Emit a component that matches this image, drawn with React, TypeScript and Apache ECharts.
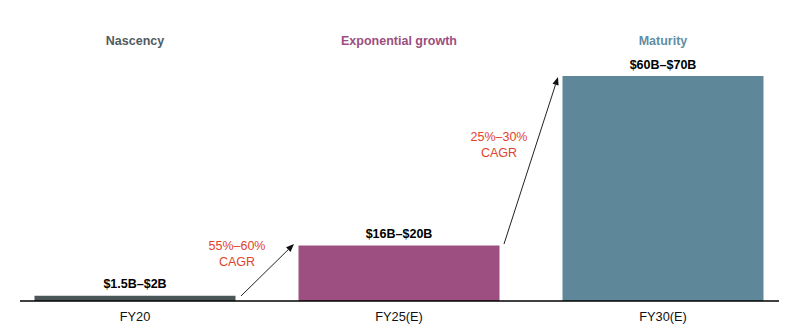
import React, { useEffect, useRef } from "react";
import * as echarts from "echarts";

const categories = ["FY20", "FY25(E)", "FY30(E)"];
const values = [1.5, 16, 65];
const valueLabels = ["$1.5B–$2B", "$16B–$20B", "$60B–$70B"];
const stageNames = ["Nascency", "Exponential growth", "Maturity"];
const barColors = ["#4b5659", "#9c4f80", "#5e8799"];
const stageColors = ["#505b61", "#9c4f80", "#5f8ea5"];
const cagrLabels = ["55%–60%\nCAGR", "25%–30%\nCAGR"];

const FONT = "'Liberation Sans', Arial, sans-serif";

function arrow(x1: number, y1: number, x2: number, y2: number) {
  const ang = Math.atan2(y2 - y1, x2 - x1);
  const len = 8;
  const w = 3.2;
  const bx = x2 - len * Math.cos(ang);
  const by = y2 - len * Math.sin(ang);
  const px = -Math.sin(ang) * w;
  const py = Math.cos(ang) * w;
  return [
    {
      type: "line",
      shape: { x1, y1, x2: bx, y2: by },
      style: { stroke: "#222", lineWidth: 1 },
    },
    {
      type: "polygon",
      shape: { points: [[x2, y2], [bx + px, by + py], [bx - px, by - py]] },
      style: { fill: "#111" },
    },
  ];
}

export default function App() {
  const ref = useRef<HTMLDivElement>(null);
  useEffect(() => {
    if (!ref.current) return;
    const chart = echarts.init(ref.current, null, { renderer: "svg" });
    const centers = [135, 399, 663];
    chart.setOption({
      animation: false,
      textStyle: { fontFamily: FONT },
      grid: { left: 3, right: 2, top: 76, bottom: 35 },
      xAxis: {
        type: "category",
        data: categories,
        axisLine: { show: false },
        axisTick: { show: false },
        axisLabel: { color: "#111", fontSize: 12.8, margin: 9, fontFamily: FONT },
      },
      yAxis: {
        type: "value",
        min: 0,
        max: 65,
        show: false,
        splitLine: { show: false },
      },
      series: [
        {
          type: "bar",
          barWidth: 201,
          data: values.map((v, i) => ({
            value: v,
            itemStyle: { color: barColors[i] },
            label: {
              show: true,
              position: "top",
              distance: 5,
              formatter: valueLabels[i],
              color: "#000",
              fontWeight: "bold",
              fontSize: 12.5,
              fontFamily: FONT,
            },
          })),
        },
      ],
      graphic: [
        {
          type: "line",
          shape: { x1: 20, y1: 301, x2: 779, y2: 301 },
          style: { stroke: "#000", lineWidth: 1.5 },
          z: 10,
        },
        ...stageNames.map((n, i) => ({
          type: "text",
          x: centers[i],
          y: 41,
          style: {
            text: n,
            fill: stageColors[i],
            font: `bold 12.5px ${FONT}`,
            textAlign: "center",
            textVerticalAlign: "middle",
          },
        })),
        {
          type: "text",
          x: 237,
          y: 254,
          style: {
            text: cagrLabels[0],
            fill: "#e2432c",
            font: `12.5px ${FONT}`,
            lineHeight: 16,
            textAlign: "center",
            textVerticalAlign: "middle",
          },
        },
        {
          type: "text",
          x: 499,
          y: 145,
          style: {
            text: cagrLabels[1],
            fill: "#e2432c",
            font: `12.5px ${FONT}`,
            lineHeight: 16,
            textAlign: "center",
            textVerticalAlign: "middle",
          },
        },
        ...arrow(241, 296, 294, 244),
        ...arrow(504, 244, 558, 77),
      ],
    });
    return () => chart.dispose();
  }, []);
  return <div ref={ref} style={{ width: 797, height: 336, margin: -8 }} />;
}
